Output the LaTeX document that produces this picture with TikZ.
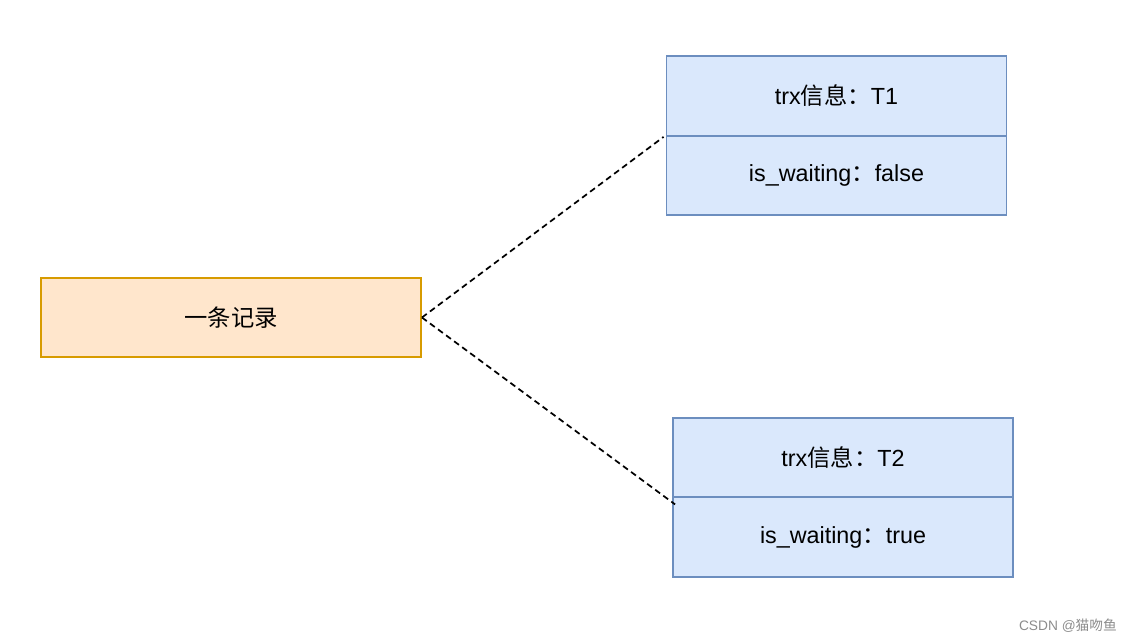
\documentclass[tikz,border=0pt]{standalone}
\usepackage{fontspec}
\setmainfont{Liberation Sans}
\newfontfamily\cjk{Noto Sans CJK SC}
\usepackage{tikz}
\tikzset{every picture/.style={line width=0.75pt}}
\definecolor{recfill}{RGB}{255,230,204}
\definecolor{recdraw}{RGB}{215,155,0}
\definecolor{trxfill}{RGB}{218,232,252}
\definecolor{trxdraw}{RGB}{108,142,191}
\tikzset{
  recbox/.style={draw=recdraw, fill=recfill, line width=1.4pt, minimum width=285pt, minimum height=59.5pt, inner sep=0pt, font=\fontsize{17.5}{20}\selectfont},
  trxcell/.style={draw=trxdraw, fill=trxfill, line width=1.4pt, minimum width=255pt, minimum height=59.5pt, inner sep=0pt, font=\fontsize{17.5}{20}\selectfont},
  waitline/.style={dash pattern={on 4.5pt off 3pt}, line width=1.3pt}
}

\begin{document}
\begin{tikzpicture}[x=0.75pt,y=0.75pt,yscale=-1,xscale=1]
\useasboundingbox (0,0) rectangle (1133,643);
% record box
\draw (231,317.5) node [recbox] (rec) {\cjk 一条记录};
% lock struct of T1
\draw (836.5,96) node [trxcell] (t1a) {trx{\cjk 信息：}T1};
\draw (836.5,175.5) node [trxcell] (t1b) {is\_waiting{\cjk ：}false};
% lock struct of T2
\draw (843,457.5) node [trxcell] (t2a) {trx{\cjk 信息：}T2};
\draw (843,537) node [trxcell] (t2b) {is\_waiting{\cjk ：}true};
% links
\draw [waitline] (rec.east) -- ([shift={(-2,2)}]t1b.north west);
\draw [waitline] (rec.east) -- ([shift={(3,8)}]t2b.north west);
% watermark
\draw (1068,626) node [text=black!45, font=\fontsize{10.3}{12}\selectfont] (mark) {CSDN @{\cjk 猫吻鱼}};
\end{tikzpicture}
\end{document}
